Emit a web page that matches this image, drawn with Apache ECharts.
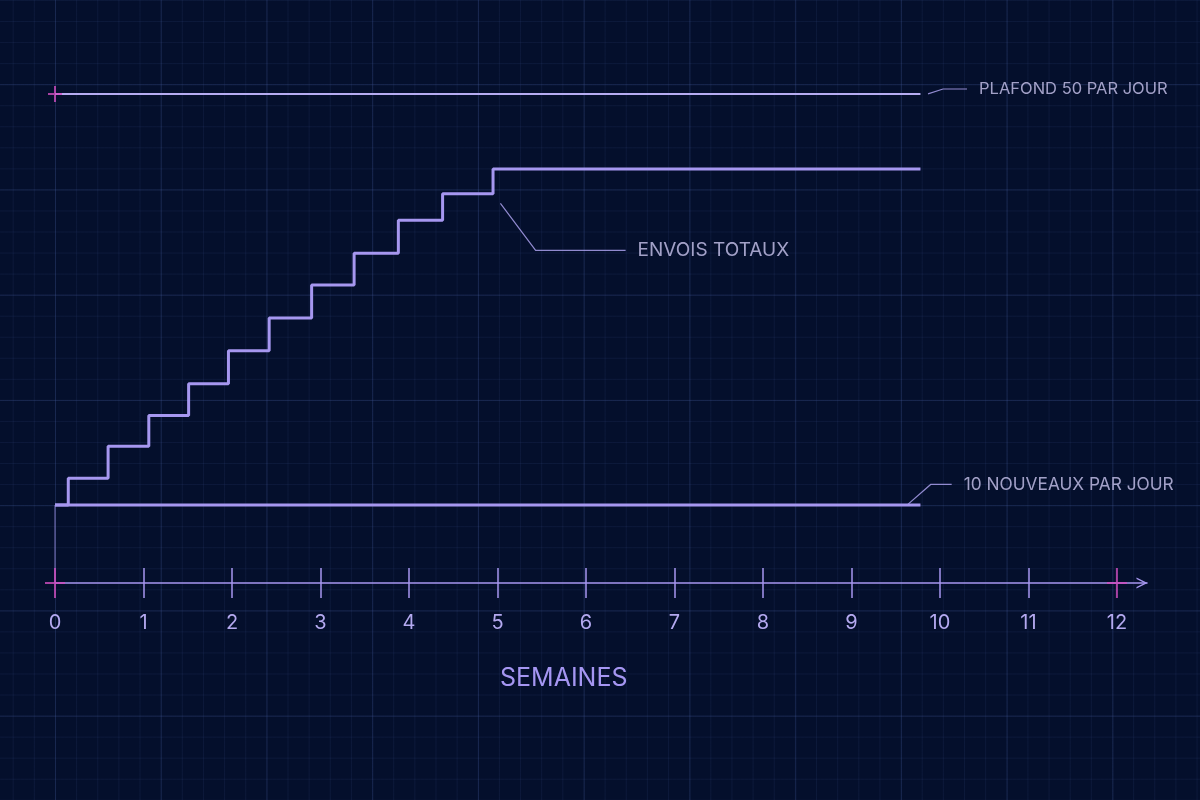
<!DOCTYPE html>
<html lang="fr">
<head>
<meta charset="utf-8">
<title>Envois par semaine</title>
<script src="https://cdn.jsdelivr.net/npm/echarts@6/dist/echarts.min.js"></script>
<style>
  html, body { margin: 0; padding: 0; background: #040f2c; }
  /* papier millimétré en fond */
  #chart {
    width: 1200px;
    height: 800px;
    background-color: #040f2c;
    background-image:
      linear-gradient(to right, rgba(70, 95, 160, 0.22) 1px, transparent 1px),
      linear-gradient(to bottom, rgba(70, 95, 160, 0.22) 1px, transparent 1px),
      linear-gradient(to right, rgba(60, 80, 140, 0.15) 1px, transparent 1px),
      linear-gradient(to bottom, rgba(60, 80, 140, 0.15) 1px, transparent 1px);
    background-size: 105.75px 100%, 100% 105.25px, 21.15px 100%, 100% 21.05px;
    background-position: 55px 0, 0 84.2px, 12.7px 0, 0 0;
  }
</style>
</head>
<body>
<div id="chart"></div>
<script>
// semaines sur l'axe x
const weeks = [0, 1, 2, 3, 4, 5, 6, 7, 8, 9, 10, 11, 12]
const innerTicks = [1, 2, 3, 4, 5, 6, 7, 8, 9, 10, 11]
const yMin = 2.4

// séries
const capLine = [[0, 50], [9.78, 50]]
const newPerDay = [[0, 10], [9.78, 10]]
const totalSends = [
  [0, 10], [0.15, 12.6], [0.6, 15.7], [1.06, 18.7], [1.51, 21.8], [1.96, 25.0],
  [2.42, 28.2], [2.9, 31.4], [3.38, 34.5], [3.88, 37.7], [4.38, 40.3],
  [4.95, 42.7], [9.78, 42.7]
]
const startGuide = [[0, yMin], [0, 10]]

// annotations
const labelTexts = ['PLAFOND 50 PAR JOUR', 'ENVOIS TOTAUX', '10 NOUVEAUX PAR JOUR']
const labelAnchors = [[9.86, 50], [5.03, 39.4], [9.63, 10]]
const capMarks = [[0, 50]]
const axisMarks = [[0, yMin], [12, yMin]]

const lavender = '#a697f0'
const pink = '#d24fc2'
const font = 'Inter'

// placement des étiquettes par rapport au point d'ancrage
const labelLayouts = [
  { dx: 39, dy: -5, length2: 24, size: 16.5 },
  { dx: 125, dy: 47.5, length2: 90, size: 19 },
  { dx: 44, dy: -20.5, length2: 21, size: 17.3 }
]

const gridBox = { left: 55, right: 53, top: 94, bottom: 217 }

function lineSeries(data, width, color, extra) {
  return Object.assign({
    type: 'line',
    data: data,
    symbol: 'none',
    clip: false,
    silent: true,
    lineStyle: { width: width, color: color }
  }, extra || {})
}

const labelSeries = labelTexts.map((text, i) => {
  const l = labelLayouts[i]
  return {
    type: 'scatter',
    data: [labelAnchors[i]],
    symbolSize: 1,
    itemStyle: { color: 'rgba(0,0,0,0)' },
    silent: true,
    label: {
      show: true,
      position: 'right',
      distance: 0,
      formatter: text,
      color: '#cbc5ef',
      fontFamily: font,
      fontSize: l.size,
      padding: [0, 0, 0, 12],
      // fond transparent pour que le padding compte dans la boîte
      backgroundColor: 'rgba(0,0,0,0)'
    },
    labelLayout: { dx: l.dx, dy: l.dy },
    labelLine: {
      show: true,
      length2: l.length2,
      lineStyle: { color: 'rgba(170, 160, 236, 0.85)', width: 1.2 }
    }
  }
})

const option = {
  backgroundColor: 'transparent',
  animation: false,
  title: {
    text: 'SEMAINES',
    left: 495,
    top: 661,
    textStyle: { color: '#a596f2', fontFamily: font, fontSize: 25, fontWeight: 'normal' }
  },
  grid: [
    Object.assign({}, gridBox),
    Object.assign({}, gridBox)
  ],
  xAxis: [
    {
      type: 'value',
      gridIndex: 0,
      min: 0,
      max: 12.34,
      splitLine: { show: false },
      axisLine: {
        show: true,
        onZero: false,
        symbol: ['none', 'path://M0,10 L5,0 L10,10 L8.6,10 L5,2.8 L1.4,10 Z'],
        symbolSize: [11, 11],
        symbolOffset: [0, -5],
        lineStyle: { color: lavender, width: 1.5 }
      },
      axisTick: {
        show: true,
        customValues: innerTicks,
        length: 15,
        lineStyle: { color: lavender, width: 1.5 }
      },
      axisLabel: {
        customValues: weeks,
        margin: 30,
        color: '#b4a9f0',
        fontFamily: font,
        fontSize: 20,
        lineHeight: 20
      }
    },
    {
      // ticks vers le haut pour faire des croix
      type: 'value',
      gridIndex: 1,
      min: 0,
      max: 12.34,
      splitLine: { show: false },
      axisLine: { show: false, onZero: false },
      axisTick: {
        show: true,
        inside: true,
        customValues: innerTicks,
        length: 15,
        lineStyle: { color: lavender, width: 1.5 }
      },
      axisLabel: { show: false }
    }
  ],
  yAxis: [
    { type: 'value', gridIndex: 0, min: yMin, max: 50, show: false },
    { type: 'value', gridIndex: 1, min: yMin, max: 50, show: false }
  ],
  series: [
    lineSeries(startGuide, 1.5, 'rgba(166, 151, 240, 0.5)'),
    lineSeries(capLine, 2, '#b6acf2'),
    lineSeries(newPerDay, 3, lavender),
    lineSeries(totalSends, 3, lavender, { step: 'end' }),
    {
      type: 'scatter',
      data: capMarks,
      symbol: 'path://M6,0H8V7H14V9H8V16H6V9H0V7H6Z',
      symbolSize: [14, 16],
      itemStyle: { color: pink },
      silent: true,
      z: 5
    },
    {
      type: 'scatter',
      data: axisMarks,
      symbol: 'path://M9,0H11V14H20V16H11V30H9V16H0V14H9Z',
      symbolSize: [20, 30],
      itemStyle: { color: pink },
      silent: true,
      z: 5
    }
  ].concat(labelSeries)
}

const myChart = echarts.init(document.getElementById('chart'))
myChart.setOption(option)
</script>
</body>
</html>
